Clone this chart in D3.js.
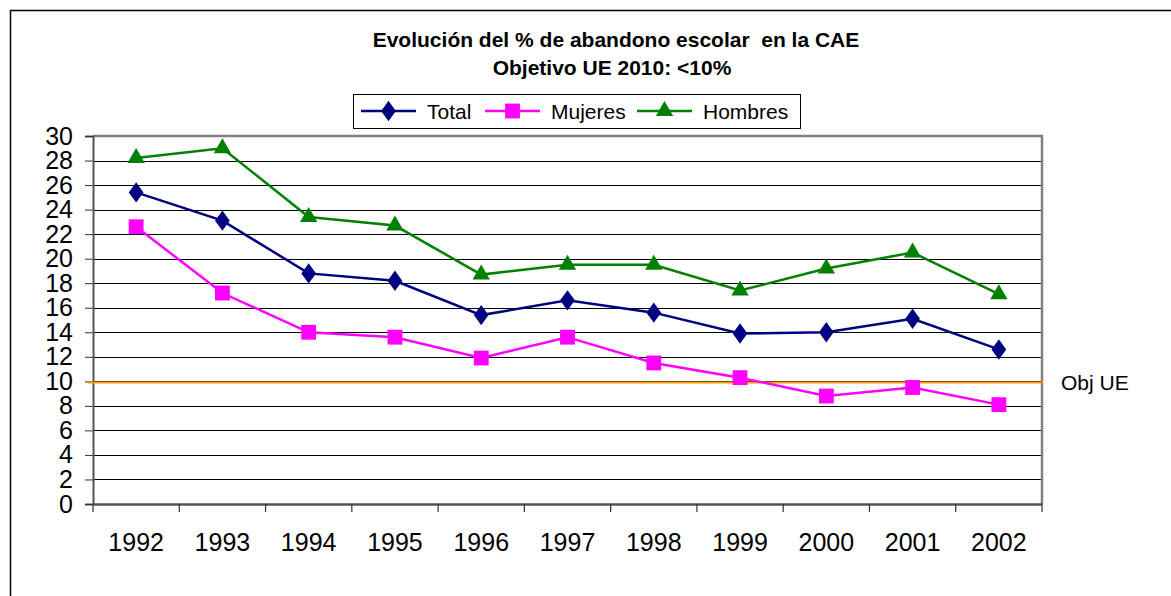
<!DOCTYPE html>
<html>
<head>
<meta charset="utf-8">
<script src="https://cdn.jsdelivr.net/npm/d3@7"></script>
<style>
  body { margin:0; background:#fff; }
  svg { display:block; font-family:"Liberation Sans", Arial, sans-serif; }
</style>
</head>
<body>
<svg width="1171" height="596"></svg>
<script>
var YEARS = ['1992','1993','1994','1995','1996','1997','1998','1999','2000','2001','2002'];
var TOTAL = [25.4, 23.1, 18.8, 18.2, 15.4, 16.6, 15.6, 13.9, 14.0, 15.1, 12.6];
var MUJERES = [22.6, 17.2, 14.0, 13.6, 11.9, 13.6, 11.5, 10.3, 8.8, 9.5, 8.1];
var HOMBRES = [28.2, 29.0, 23.4, 22.7, 18.7, 19.5, 19.5, 17.4, 19.2, 20.5, 17.1];
var Y_TICKS = [0,2,4,6,8,10,12,14,16,18,20,22,24,26,28,30];
var OBJ_UE = 9.9;
var TITLE1 = 'Evolución del % de abandono escolar  en la CAE';
var TITLE2 = 'Objetivo UE 2010: <10%';

var svg = d3.select('svg');

// outer chart frame (runs off the window on right/bottom like the original)
svg.append('rect').attr('x', 10.5).attr('y', 10.5).attr('width', 1300).attr('height', 700)
  .attr('fill', 'none').attr('stroke', '#000').attr('stroke-width', 1.5);

var plotL = 93, plotR = 1042, plotT = 136, plotB = 504;

var x = d3.scaleBand().domain(YEARS).range([plotL, plotR]).padding(0);
var y = d3.scaleLinear().domain([0, 30]).range([plotB, plotT]);
var cx = function(d, i){ return x(YEARS[i]) + x.bandwidth()/2; };

// gridlines
svg.append('g').selectAll('line').data(Y_TICKS.filter(function(v){ return v > 0 && v < 30; }))
  .enter().append('line')
  .attr('x1', plotL).attr('x2', plotR)
  .attr('y1', function(d){ return Math.round(y(d)) + 0.5; })
  .attr('y2', function(d){ return Math.round(y(d)) + 0.5; })
  .attr('stroke', '#000').attr('stroke-width', 1);

// plot area border (top + right gray)
svg.append('path')
  .attr('d', 'M' + plotL + ',' + plotT + 'H' + plotR + 'V' + plotB)
  .attr('fill', 'none').attr('stroke', '#808080').attr('stroke-width', 2.5);

// y axis
var yAxis = svg.append('g').attr('transform', 'translate(' + plotL + ',0)')
  .call(d3.axisLeft(y).tickValues(Y_TICKS).tickSize(8).tickPadding(12).tickFormat(d3.format('d')));
yAxis.select('.domain').attr('stroke', '#555').attr('stroke-width', 2);
yAxis.selectAll('.tick line').attr('stroke', '#333');
yAxis.selectAll('text').attr('font-size', 25).attr('fill', '#000')
  .attr('font-family', '"Liberation Sans", Arial, sans-serif');

// x axis: labels centred, ticks on category boundaries
var xAxis = svg.append('g').attr('transform', 'translate(0,' + plotB + ')')
  .call(d3.axisBottom(x).tickSize(0).tickPadding(29));
xAxis.select('.domain').attr('stroke', '#555').attr('stroke-width', 2.5);
xAxis.selectAll('text').attr('font-size', 25).attr('fill', '#000')
  .attr('font-family', '"Liberation Sans", Arial, sans-serif');
var bounds = YEARS.map(function(d){ return x(d); }).concat([plotR]);
svg.append('g').selectAll('line').data(bounds).enter().append('line')
  .attr('x1', function(d){ return d; }).attr('x2', function(d){ return d; })
  .attr('y1', plotB).attr('y2', plotB + 8)
  .attr('stroke', '#333').attr('stroke-width', 1.2);

// objective line
svg.append('line')
  .attr('x1', plotL - 5).attr('x2', plotR + 1)
  .attr('y1', y(OBJ_UE)).attr('y2', y(OBJ_UE))
  .attr('stroke', '#FF9900').attr('stroke-width', 2);
svg.append('text').attr('x', 1061).attr('y', y(OBJ_UE) + 7)
  .attr('font-size', 21).text('Obj UE');

var line = d3.line().x(cx).y(function(d){ return y(d); });

var series = [
  {name:'Total', values:TOTAL, color:'#000080', shape:d3.symbolDiamond, size:120},
  {name:'Mujeres', values:MUJERES, color:'#FF00FF', shape:d3.symbolSquare, size:220},
  {name:'Hombres', values:HOMBRES, color:'#008000', shape:d3.symbolTriangle, size:130}
];

series.forEach(function(s){
  svg.append('path').datum(s.values).attr('d', line)
    .attr('fill', 'none').attr('stroke', s.color).attr('stroke-width', 2.5);
  svg.append('g').selectAll('path').data(s.values).enter().append('path')
    .attr('d', d3.symbol().type(s.shape).size(s.size))
    .attr('transform', function(d, i){
      var sy = s.shape === d3.symbolDiamond ? 'scale(1.25,1)' : '';
      return 'translate(' + cx(d, i) + ',' + y(d) + ')' + sy;
    })
    .attr('fill', s.color);
});

// title
svg.append('text').attr('x', 616).attr('y', 47).attr('text-anchor', 'middle')
  .attr('font-size', 21).attr('font-weight', 'bold').style('white-space', 'pre').text(TITLE1);
svg.append('text').attr('x', 612).attr('y', 75).attr('text-anchor', 'middle')
  .attr('font-size', 21).attr('font-weight', 'bold').text(TITLE2);

// legend
var legend = svg.append('g');
legend.append('rect').attr('x', 353.5).attr('y', 94.5).attr('width', 447).attr('height', 34)
  .attr('fill', '#fff').attr('stroke', '#000').attr('stroke-width', 1);
var legX = [361, 485, 637];
series.forEach(function(s, i){
  var g = legend.append('g').attr('transform', 'translate(' + legX[i] + ',111)');
  g.append('line').attr('x1', 0).attr('x2', 55).attr('stroke', s.color).attr('stroke-width', 2.5);
  g.append('path').attr('d', d3.symbol().type(s.shape).size(s.size))
    .attr('transform', 'translate(27.5,0)' + (s.shape === d3.symbolDiamond ? 'scale(1.25,1)' : ''))
    .attr('fill', s.color);
  g.append('text').attr('x', 66).attr('y', 8).attr('font-size', 21).text(s.name);
});
</script>
</body>
</html>
